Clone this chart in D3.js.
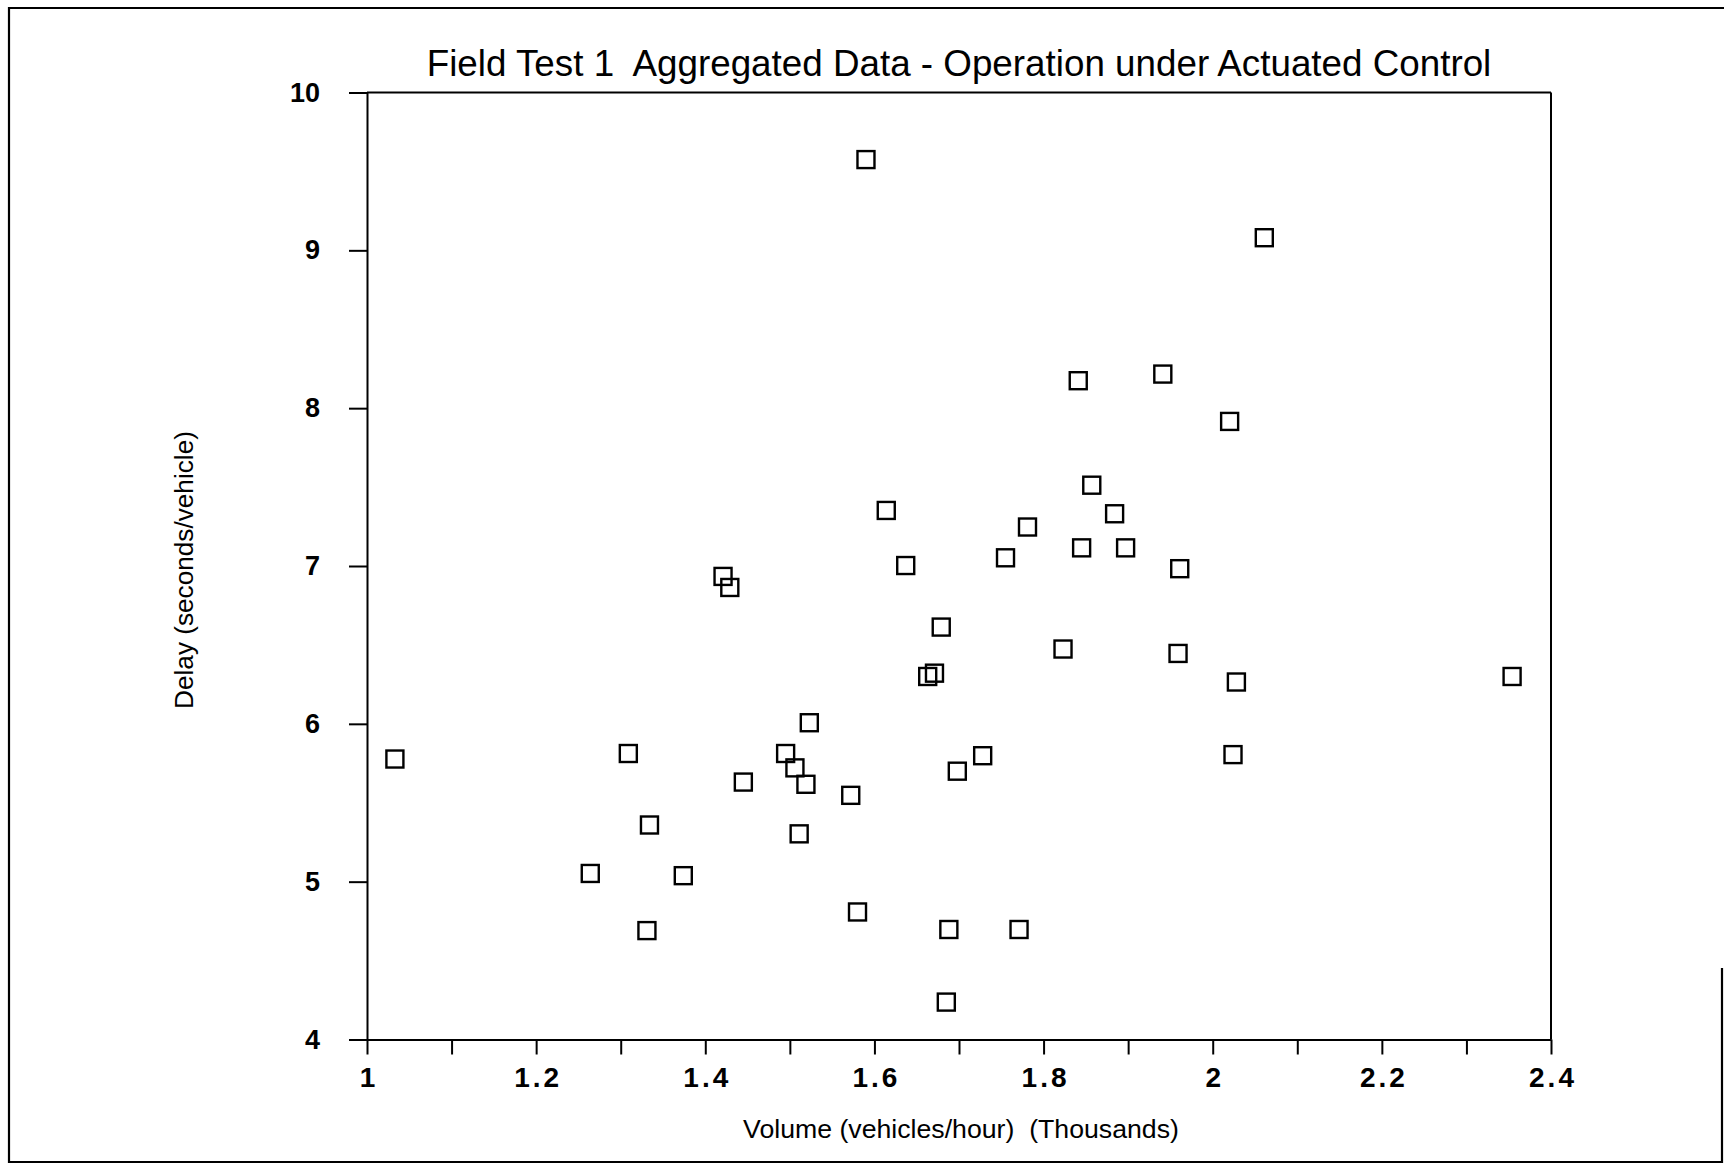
<!DOCTYPE html>
<html>
<head>
<meta charset="utf-8">
<script src="https://cdn.jsdelivr.net/npm/d3@7"></script>
<style>
  html, body { margin: 0; padding: 0; background: #fff; }
  svg { display: block; }
  text { font-family: "Liberation Sans", Arial, Helvetica, sans-serif; fill: #000; }
</style>
</head>
<body>
<script>
// ---- data ----
const volume = [1.033, 1.590, 2.061, 1.841, 1.941, 2.020, 1.857, 1.614, 1.884, 1.781,
                1.845, 1.897, 1.755, 1.637, 1.961, 1.421, 1.429, 1.679, 1.823, 1.959,
                1.671, 1.663, 2.354, 2.028, 1.523, 1.309, 1.495, 1.728, 2.024, 1.506,
                1.445, 1.519, 1.698, 1.572, 1.334, 1.511, 1.264, 1.374, 1.580, 1.331,
                1.688, 1.771, 1.685];
const delay  = [5.777, 9.575, 9.080, 8.174, 8.216, 7.916, 7.512, 7.352, 7.331, 7.247,
                7.115, 7.115, 7.052, 7.003, 6.983, 6.934, 6.864, 6.613, 6.474, 6.446,
                6.321, 6.300, 6.300, 6.265, 6.007, 5.812, 5.812, 5.798, 5.805, 5.721,
                5.631, 5.617, 5.700, 5.547, 5.359, 5.303, 5.052, 5.038, 4.808, 4.690,
                4.697, 4.697, 4.237];
const xTicks = [1.0, 1.1, 1.2, 1.3, 1.4, 1.5, 1.6, 1.7, 1.8, 1.9, 2.0, 2.1, 2.2, 2.3, 2.4];
const xTickLabels = {"1":"1", "1.2":"1.2", "1.4":"1.4", "1.6":"1.6", "1.8":"1.8", "2":"2", "2.2":"2.2", "2.4":"2.4"};
const yTicks = [4, 5, 6, 7, 8, 9, 10];
const titleText = "Field Test 1  Aggregated Data - Operation under Actuated Control";
const xTitle = "Volume (vehicles/hour)  (Thousands)";
const yTitle = "Delay (seconds/vehicle)";

// ---- layout ----
const W = 1725, H = 1167;
const L = 367, R = 1551, T = 92.5, B = 1039.5;

const svg = d3.select("body").append("svg").attr("width", W).attr("height", H);
svg.append("rect").attr("width", W).attr("height", H).attr("fill", "#fff");

// outer frame (right edge only partially visible)
svg.append("path")
  .attr("d", `M1724,8 L9,8 L9,1162 L1722,1162 L1722,968`)
  .attr("fill", "none").attr("stroke", "#000").attr("stroke-width", 2.2);

const x = d3.scaleLinear().domain([1, 2.4]).range([L, R]);
const y = d3.scaleLinear().domain([4, 10]).range([B, T]);

// plot frame top and right
svg.append("line").attr("x1", L).attr("x2", R).attr("y1", T).attr("y2", T)
  .attr("stroke", "#000").attr("stroke-width", 2);
svg.append("line").attr("x1", R).attr("x2", R).attr("y1", T).attr("y2", B)
  .attr("stroke", "#000").attr("stroke-width", 2);

// x axis
const xAxis = svg.append("g").attr("transform", `translate(0,${B})`)
  .call(d3.axisBottom(x).tickValues(xTicks).tickSize(15).tickSizeOuter(0)
        .tickFormat(d => xTickLabels[String(+d.toFixed(1))] || ""));
xAxis.select(".domain").attr("stroke-width", 2);
xAxis.selectAll(".tick line").attr("stroke-width", 2);
xAxis.selectAll(".tick text")
  .attr("font-size", 28).attr("font-weight", "bold")
  .attr("font-family", "'Liberation Sans', Arial, sans-serif")
  .style("letter-spacing", "3px")
  .attr("dx", "1.5px")
  .attr("y", 28);

// y axis
const yAxis = svg.append("g").attr("transform", `translate(${L},0)`)
  .call(d3.axisLeft(y).tickValues(yTicks).tickSize(18).tickSizeOuter(0).tickFormat(d3.format("d")));
yAxis.select(".domain").attr("stroke-width", 2);
yAxis.selectAll(".tick line").attr("stroke-width", 2);
yAxis.selectAll(".tick text")
  .attr("font-size", 27).attr("font-weight", "bold")
  .attr("font-family", "'Liberation Sans', Arial, sans-serif")
  .attr("x", -47);

// markers
const pts = volume.map((v, i) => ({v, d: delay[i]}));
const S = 17;
svg.append("g").selectAll("rect").data(pts).join("rect")
  .attr("x", p => x(p.v) - S / 2)
  .attr("y", p => y(p.d) - S / 2)
  .attr("width", S).attr("height", S)
  .attr("fill", "none").attr("stroke", "#000").attr("stroke-width", 2.4);

// fit text helper
function fitText(sel, targetWidth) {
  const w = sel.node().getComputedTextLength();
  const fs = parseFloat(sel.attr("font-size"));
  sel.attr("font-size", fs * targetWidth / w);
}

// title
const t = svg.append("text").attr("x", 959).attr("y", 76)
  .attr("text-anchor", "middle").attr("font-size", 30)
  .style("white-space", "pre").text(titleText);
fitText(t, 1065);

// x title
const xt = svg.append("text").attr("x", 961).attr("y", 1138)
  .attr("text-anchor", "middle").attr("font-size", 22)
  .style("white-space", "pre").text(xTitle);
fitText(xt, 436);

// y title
const yt = svg.append("text")
  .attr("transform", "translate(193,570) rotate(-90)")
  .attr("text-anchor", "middle").attr("font-size", 22)
  .text(yTitle);
fitText(yt, 278);
</script>
</body>
</html>
